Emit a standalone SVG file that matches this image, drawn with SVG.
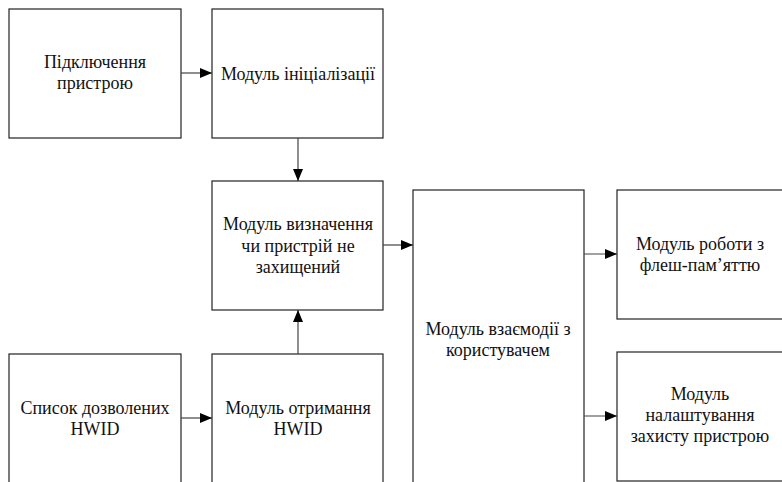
<svg xmlns="http://www.w3.org/2000/svg" width="782" height="482" viewBox="0 0 782 482">
<style>
.box{fill:#fff;stroke:#222;stroke-width:1.2}
.t{font-family:"Liberation Serif","Times New Roman",serif;font-size:18px;fill:#111;text-anchor:middle}
.c{stroke:#444;stroke-width:1.2;fill:none;marker-end:url(#ah)}
</style>
<defs>
<marker id="ah" markerUnits="userSpaceOnUse" markerWidth="12" markerHeight="10" refX="12" refY="5" orient="auto">
<path d="M0,0 L12,5 L0,10 Z" fill="#000"/>
</marker>
</defs>
<rect width="782" height="482" fill="#fff"/>
<g id="n1"><rect class="box" x="9" y="9" width="172" height="129"/>
<text class="t" x="95" y="68">Підключення</text><text class="t" x="95" y="89">пристрою</text></g>
<g id="n2"><rect class="box" x="212" y="9" width="171" height="129"/>
<text class="t" x="298" y="80">Модуль ініціалізації</text></g>
<g id="n3"><rect class="box" x="212" y="181" width="171" height="129"/>
<text class="t" x="298" y="230">Модуль визначення</text><text class="t" x="298" y="252">чи пристрій не</text><text class="t" x="298" y="273">захищений</text></g>
<g id="n4"><rect class="box" x="413" y="190" width="171" height="300"/>
<text class="t" x="498" y="335">Модуль взаємодії з</text><text class="t" x="498" y="356">користувачем</text></g>
<g id="n5"><rect class="box" x="617" y="190" width="170" height="129"/>
<text class="t" x="700" y="250">Модуль роботи з</text><text class="t" x="700" y="271">флеш-пам’яттю</text></g>
<g id="n6"><rect class="box" x="617" y="352" width="170" height="129"/>
<text class="t" x="700" y="400">Модуль</text><text class="t" x="700" y="421">налаштування</text><text class="t" x="700" y="442">захисту пристрою</text></g>
<g id="n7"><rect class="box" x="9" y="354" width="172" height="140"/>
<text class="t" x="95" y="414">Список дозволених</text><text class="t" x="95" y="435">HWID</text></g>
<g id="n8"><rect class="box" x="212" y="354" width="171" height="140"/>
<text class="t" x="298" y="414">Модуль отримання</text><text class="t" x="298" y="435">HWID</text></g>
<g id="connectors">
<path class="c" d="M181,73 H212"/>
<path class="c" d="M298,138 V181"/>
<path class="c" d="M298,354 V310"/>
<path class="c" d="M383,245 H413"/>
<path class="c" d="M584,254 H617"/>
<path class="c" d="M584,416 H617"/>
<path class="c" d="M181,418 H212"/>
</g>
</svg>
